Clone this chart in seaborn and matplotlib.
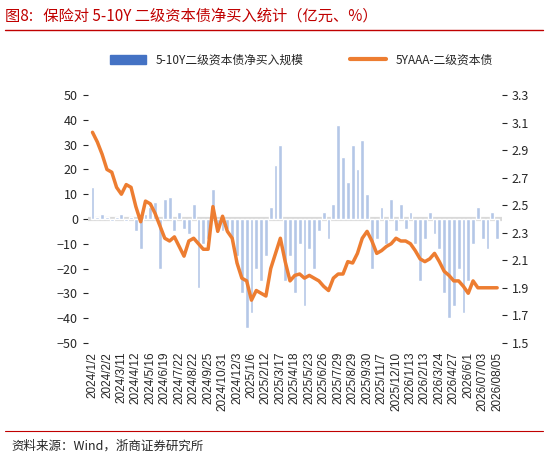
import numpy as np
import matplotlib.pyplot as plt
import seaborn as sns
from matplotlib.patches import Patch
from matplotlib.lines import Line2D

sns.set_style("white")
plt.rcParams["font.family"] = ["Noto Sans CJK SC", "DejaVu Sans"]

tick_labels = ["2024/1/2", "2024/2/2", "2024/3/11", "2024/4/12", "2024/5/16", "2024/6/19",
               "2024/7/22", "2024/8/22", "2024/9/25", "2024/10/31", "2024/12/3", "2025/1/6",
               "2025/2/12", "2025/3/17", "2025/4/18", "2025/5/23", "2025/6/26", "2025/7/29",
               "2025/8/29", "2025/9/30", "2025/11/7", "2025/12/10", "2026/1/13", "2026/2/13",
               "2026/3/24", "2026/4/27", "2026/6/1", "2026/07/03", "2026/08/05"]

# net buying (亿元), sampled ~every 7 trading days
net_buy = [13, 1, 2, 1, -1, 1, 2, -1, 1, -5, -12, 2, 5, 7, -20, 8, 9, -5, 3, -4,
           -6, 6, -28, -10, -8, 12, -3, -5, -4, -9, -15, -30, -44, -38, -20, -25, -15, 5, 22, 30,
           -25, -15, -30, -10, -35, -12, -20, -5, 3, -8, 6, 38, 25, 15, 30, 20, 32, 10, -20, -8,
           5, -10, 8, -5, 6, -4, 3, -10, -25, -8, 3, -6, -12, -30, -40, -35, -20, -38, -25, -10,
           5, -8, -12, 3, -8]

# 5Y AAA tier-2 yield (%)
yield_5y = [3.03, 2.96, 2.87, 2.76, 2.74, 2.63, 2.58, 2.65, 2.63, 2.49, 2.38, 2.53, 2.51, 2.44,
            2.35, 2.26, 2.24, 2.27, 2.20, 2.13, 2.24, 2.26, 2.22, 2.18, 2.18, 2.49, 2.31, 2.42,
            2.31, 2.26, 2.08, 1.97, 1.95, 1.81, 1.88, 1.86, 1.84, 2.04, 2.15, 2.26, 2.09, 1.95,
            1.99, 2.00, 1.97, 1.99, 1.97, 1.95, 1.91, 1.88, 1.97, 2.00, 2.00, 2.09, 2.08, 2.15,
            2.26, 2.31, 2.24, 2.15, 2.17, 2.20, 2.22, 2.26, 2.24, 2.24, 2.22, 2.17, 2.11, 2.09,
            2.11, 2.15, 2.09, 2.02, 1.99, 1.95, 1.95, 1.91, 1.86, 1.95, 1.90, 1.90, 1.90, 1.90, 1.90]

idx = np.arange(len(yield_5y))
step = (len(idx) - 1) // (len(tick_labels) - 1)

fig = plt.figure(figsize=(5.48, 4.62), dpi=100)
ax = fig.add_axes([0.16, 0.258, 0.756, 0.536])
ax.axhline(0, color="#d9d9d9", lw=3, zorder=1)
sns.barplot(x=idx, y=net_buy, native_scale=True, color="#b4c7e7", width=0.8,
            saturation=1, ax=ax, zorder=2)
ax.set_ylim(-50, 50)
ax.set_yticks(range(-50, 51, 10))
ax.set_xlim(-1, len(idx))
ax.set_xticks(idx[::step])
ax.set_xticklabels(tick_labels, rotation=90, fontsize=8.5, family="Liberation Sans")
ax.tick_params(axis="y", labelsize=9)

ax2 = ax.twinx()
sns.lineplot(x=idx, y=yield_5y, color="#ed7d31", lw=2.5, ax=ax2)
ax2.set_ylim(1.5, 3.3)
ax2.set_yticks(np.round(np.arange(1.5, 3.31, 0.2), 1))
ax2.tick_params(axis="y", labelsize=9)
for a in (ax, ax2):
    for s in a.spines.values():
        s.set_visible(False)
    a.set_ylabel("")
ax.tick_params(axis="x", length=3, color="#bfbfbf")

handles = [Patch(color="#4472c4"), Line2D([], [], color="#ed7d31", lw=3)]
fig.legend(handles, ["5-10Y二级资本债净买入规模", "5YAAA-二级资本债"], loc="center",
           bbox_to_anchor=(0.55, 0.87), ncol=2, frameon=False, fontsize=8.5,
           columnspacing=4, handlelength=3)

fig.text(0.01, 0.965, "图8:   保险对 5-10Y 二级资本债净买入统计（亿元、%）", color="#c00000",
         fontsize=11, va="center")
fig.add_artist(Line2D([0.01, 0.99], [0.935, 0.935], color="#c00000", lw=1))
fig.add_artist(Line2D([0.01, 0.99], [0.068, 0.068], color="#c00000", lw=0.8))
fig.text(0.02, 0.035, "资料来源：Wind，浙商证券研究所", fontsize=9, va="center")

fig.savefig("out.png", dpi=100)
